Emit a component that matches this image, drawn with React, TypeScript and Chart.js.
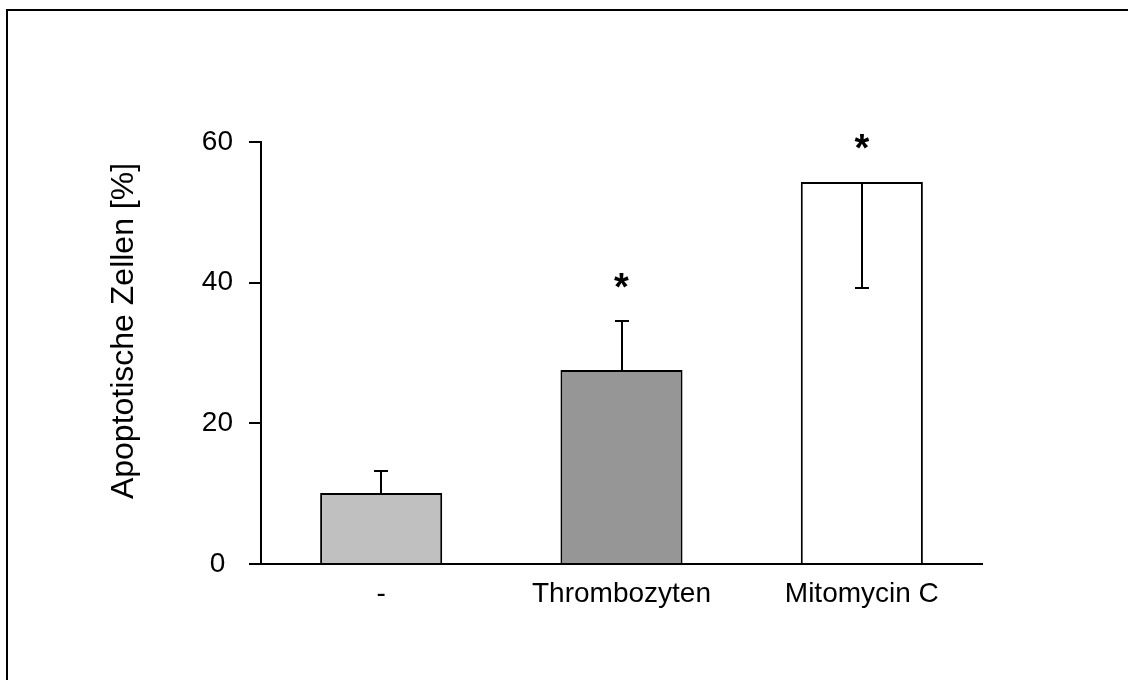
import React, { useEffect, useRef } from "react";
import { Chart, registerables } from "chart.js";

Chart.register(...registerables);

const categories = ["-", "Thrombozyten", "Mitomycin C"];
const values = [10.1, 27.6, 54.3];
const errorEnds = [13.2, 34.6, 39.2];
const significance = ["", "*", "*"];
const barColors = ["#c0c0c0", "#969696", "#ffffff"];
const yTitle = "Apoptotische Zellen [%]";
const yMin = 0;
const yMax = 60;
const yStep = 20;

const FONT = "'Liberation Sans', Arial, sans-serif";

const framePlugin = {
  id: "frame",
  beforeDraw(chart: any) {
    const { ctx, width, height } = chart;
    ctx.save();
    ctx.fillStyle = "#ffffff";
    ctx.fillRect(0, 0, width, height);
    ctx.strokeStyle = "#000";
    ctx.lineWidth = 2;
    ctx.beginPath();
    ctx.moveTo(7, height);
    ctx.lineTo(7, 10);
    ctx.lineTo(width, 10);
    ctx.stroke();
    ctx.restore();
  },
};

const extrasPlugin = {
  id: "extras",
  afterDatasetsDraw(chart: any) {
    const { ctx } = chart;
    const xs = chart.scales.x;
    const ys = chart.scales.y;
    ctx.save();
    ctx.strokeStyle = "#000";
    ctx.lineWidth = 2;
    values.forEach((v, i) => {
      const x = Math.round(xs.getPixelForValue(i));
      const y0 = ys.getPixelForValue(v);
      const y1 = Math.round(ys.getPixelForValue(errorEnds[i]));
      ctx.beginPath();
      ctx.moveTo(x, y0);
      ctx.lineTo(x, y1);
      ctx.moveTo(x - 7, y1);
      ctx.lineTo(x + 7, y1);
      ctx.stroke();
    });
    ctx.fillStyle = "#000";
    ctx.font = `bold 38px ${FONT}`;
    ctx.textAlign = "center";
    ctx.textBaseline = "alphabetic";
    significance.forEach((s, i) => {
      if (!s) return;
      const x = xs.getPixelForValue(i);
      const top = ys.getPixelForValue(Math.max(values[i], errorEnds[i]));
      ctx.fillText(s, x, top - 21);
    });
    // y title
    ctx.font = `32px ${FONT}`;
    ctx.textAlign = "center";
    ctx.textBaseline = "alphabetic";
    ctx.translate(133, 331);
    ctx.rotate(-Math.PI / 2);
    ctx.fillText(yTitle, 0, 0);
    ctx.restore();
  },
};

export default function App() {
  const ref = useRef<HTMLCanvasElement | null>(null);
  useEffect(() => {
    if (!ref.current) return;
    const chart = new Chart(ref.current, {
      type: "bar",
      data: {
        labels: categories,
        datasets: [
          {
            data: values,
            backgroundColor: barColors,
            borderColor: "#000",
            borderWidth: 2,
            categoryPercentage: 1,
            barPercentage: 0.508,
          },
        ],
      },
      options: {
        responsive: false,
        animation: false,
        events: [],
        layout: { padding: { top: 142, right: 146, bottom: 0, left: 0 } },
        plugins: { legend: { display: false }, tooltip: { enabled: false } },
        scales: {
          x: {
            afterFit: (s: any) => {
              s.height = 116;
            },
            grid: { display: true, drawOnChartArea: false, drawTicks: false },
            border: { display: true, color: "#000", width: 2 },
            ticks: {
              color: "#000",
              padding: 13,
              font: { family: FONT, size: 28 },
              maxRotation: 0,
              autoSkip: false,
            },
          },
          y: {
            min: yMin,
            max: yMax,
            afterFit: (s: any) => {
              s.width = 261;
            },
            grid: {
              display: true,
              drawOnChartArea: false,
              drawTicks: true,
              tickLength: 12,
              color: "#000",
              lineWidth: 2,
            },
            border: { display: true, color: "#000", width: 2 },
            ticks: {
              stepSize: yStep,
              color: "#000",
              padding: 16,
              crossAlign: "center",
              font: { family: FONT, size: 28 },
            },
          },
        },
      },
      plugins: [framePlugin, extrasPlugin],
    } as any);
    return () => chart.destroy();
  }, []);
  return (
    <div style={{ position: "fixed", left: 0, top: 0, width: 1128, height: 680, background: "#fff" }}>
      <canvas ref={ref} width={1128} height={680} style={{ display: "block" }} />
    </div>
  );
}
